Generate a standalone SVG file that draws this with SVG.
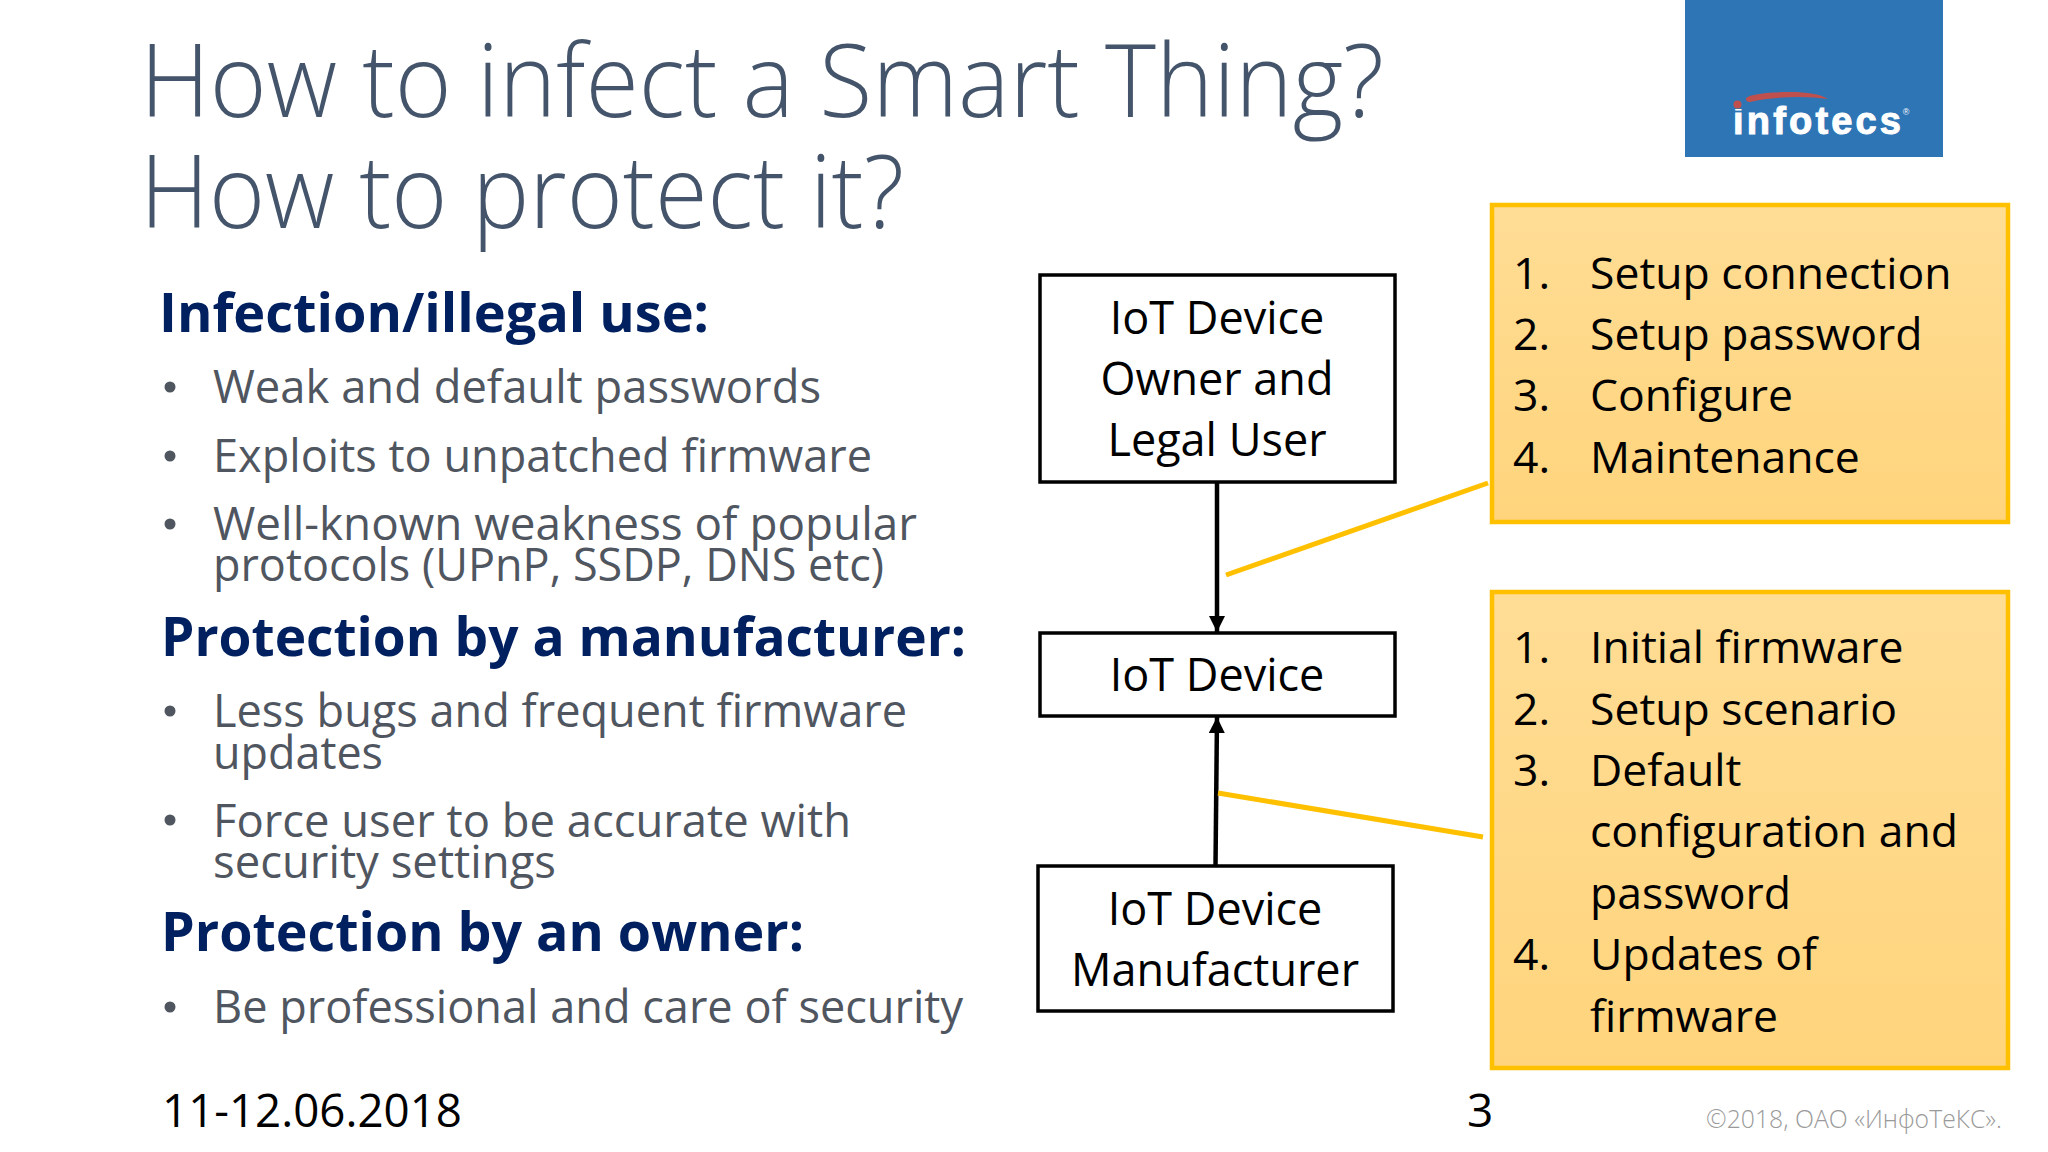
<svg xmlns="http://www.w3.org/2000/svg" width="2048" height="1152" viewBox="0 0 2048 1152">
<defs>
<linearGradient id="y" x1="0" y1="0" x2="0" y2="1"><stop offset="0" stop-color="#ffdd95"/><stop offset="1" stop-color="#ffd47c"/></linearGradient>
<marker id="ah" markerWidth="16" markerHeight="16" refX="16" refY="8" orient="auto" markerUnits="userSpaceOnUse"><path d="M0 0L16 8L0 16Z" fill="#000"/></marker>
</defs>
<style>
text{font-family:"Open Sans","Noto Sans","Liberation Sans",sans-serif}
.t{font-size:101px;font-weight:300;fill:#44546a}
.h{font-size:54px;font-weight:700;fill:#002060}
.b{font-size:46px;fill:#50565f}
.k{font-size:45px;fill:#000}
.c{text-anchor:middle}
.box{fill:#fff;stroke:#000;stroke-width:3.5}
.note{fill:url(#y);stroke:#ffc000;stroke-width:4.5}
.n{font-size:44.500px;fill:#000}
.f{font-size:46px;fill:#000}
.dot{fill:#50565f}
</style>
<rect width="2048" height="1152" fill="#fff"/>
<g id="title">
<text class="t" x="140" y="117" textLength="1244" lengthAdjust="spacingAndGlyphs">How to infect a Smart Thing?</text>
<text class="t" x="140" y="228" textLength="764" lengthAdjust="spacingAndGlyphs">How to protect it?</text>
</g>
<g id="logo">
<rect x="1685" y="0" width="258" height="157" fill="#2e75b6"/>
<path d="M1746 99C1746 95 1765 92 1790 92C1807 92 1820 94 1828 99C1808 96 1775 96 1750 102Q1746 102 1746 99Z" fill="#c0504d"/>
<text x="1733" y="134" font-size="38" font-weight="700" fill="#fff" stroke="#fff" stroke-width="1" textLength="168" lengthAdjust="spacing" style="font-family:'Liberation Sans',sans-serif">infotecs</text>
<rect x="1733" y="100" width="9" height="9" fill="#2e75b6"/>
<circle cx="1737.500" cy="104.500" r="4" fill="#c0504d"/>
<text x="1906" y="115" font-size="9" fill="#ffffff" text-anchor="middle" style="font-family:'Liberation Sans',sans-serif">®</text>
</g>
<g id="left-text">
<text class="h" x="159" y="332" textLength="550" lengthAdjust="spacingAndGlyphs">Infection/illegal use:</text>
<circle class="dot" cx="170" cy="387" r="5.500"/>
<text class="b" x="213" y="403" textLength="608" lengthAdjust="spacingAndGlyphs">Weak and default passwords</text>
<circle class="dot" cx="170" cy="456" r="5.500"/>
<text class="b" x="213" y="472" textLength="659" lengthAdjust="spacingAndGlyphs">Exploits to unpatched firmware</text>
<circle class="dot" cx="170" cy="524" r="5.500"/>
<text class="b" x="213" y="540" textLength="704" lengthAdjust="spacingAndGlyphs">Well-known weakness of popular</text>
<text class="b" x="213" y="581" textLength="671" lengthAdjust="spacingAndGlyphs">protocols (UPnP, SSDP, DNS etc)</text>
<text class="h" x="161" y="656" textLength="805" lengthAdjust="spacingAndGlyphs">Protection by a manufacturer:</text>
<circle class="dot" cx="170" cy="711" r="5.500"/>
<text class="b" x="213" y="727" textLength="694" lengthAdjust="spacingAndGlyphs">Less bugs and frequent firmware</text>
<text class="b" x="213" y="769" textLength="170" lengthAdjust="spacingAndGlyphs">updates</text>
<circle class="dot" cx="170" cy="820" r="5.500"/>
<text class="b" x="213" y="837" textLength="638" lengthAdjust="spacingAndGlyphs">Force user to be accurate with</text>
<text class="b" x="213" y="878" textLength="343" lengthAdjust="spacingAndGlyphs">security settings</text>
<text class="h" x="161" y="951" textLength="643" lengthAdjust="spacingAndGlyphs">Protection by an owner:</text>
<circle class="dot" cx="170" cy="1007" r="5.500"/>
<text class="b" x="213" y="1023" textLength="750" lengthAdjust="spacingAndGlyphs">Be professional and care of security</text>
</g>
<g id="connectors" fill="none">
<line x1="1217" y1="482" x2="1217" y2="632" stroke="#000" stroke-width="4.500" marker-end="url(#ah)"/>
<line x1="1215.500" y1="866" x2="1217" y2="717" stroke="#000" stroke-width="4.500" marker-end="url(#ah)"/>
<line x1="1226" y1="575" x2="1488" y2="483" stroke="#ffc000" stroke-width="5"/>
<line x1="1218" y1="793" x2="1483" y2="837" stroke="#ffc000" stroke-width="5"/>
</g>
<g id="owner">
<rect class="box" x="1040" y="275" width="355" height="207"/>
<text class="k c" x="1217" y="334">IoT Device</text>
<text class="k c" x="1217" y="395">Owner and</text>
<text class="k c" x="1217" y="456">Legal User</text>
</g>
<g id="device">
<rect class="box" x="1040" y="633" width="355" height="83"/>
<text class="k c" x="1217" y="691">IoT Device</text>
</g>
<g id="manufacturer">
<rect class="box" x="1038" y="866" width="355" height="145"/>
<text class="k c" x="1215" y="925">IoT Device</text>
<text class="k c" x="1215" y="986">Manufacturer</text>
</g>
<g id="note-owner">
<rect class="note" x="1492" y="205" width="516" height="317"/>
<text class="n" x="1513" y="289">1.</text><text class="n" x="1590" y="289">Setup connection</text>
<text class="n" x="1513" y="350">2.</text><text class="n" x="1590" y="350">Setup password</text>
<text class="n" x="1513" y="411">3.</text><text class="n" x="1590" y="411">Configure</text>
<text class="n" x="1513" y="473">4.</text><text class="n" x="1590" y="473">Maintenance</text>
</g>
<g id="note-manufacturer">
<rect class="note" x="1492" y="592" width="516" height="476"/>
<text class="n" x="1513" y="663">1.</text><text class="n" x="1590" y="663">Initial firmware</text>
<text class="n" x="1513" y="725">2.</text><text class="n" x="1590" y="725">Setup scenario</text>
<text class="n" x="1513" y="786">3.</text><text class="n" x="1590" y="786">Default</text>
<text class="n" x="1590" y="847">configuration and</text>
<text class="n" x="1590" y="909">password</text>
<text class="n" x="1513" y="970">4.</text><text class="n" x="1590" y="970">Updates of</text>
<text class="n" x="1590" y="1032">firmware</text>
</g>
<g id="footer">
<text class="f" x="162" y="1127" textLength="300" lengthAdjust="spacingAndGlyphs">11-12.06.2018</text>
<text class="f" x="1467" y="1127">3</text>
<text x="1706" y="1128" font-size="26" font-weight="300" fill="#9a9a9a" textLength="296" lengthAdjust="spacingAndGlyphs">©2018, ОАО «ИнфоТеКС».</text>
</g>
</svg>
